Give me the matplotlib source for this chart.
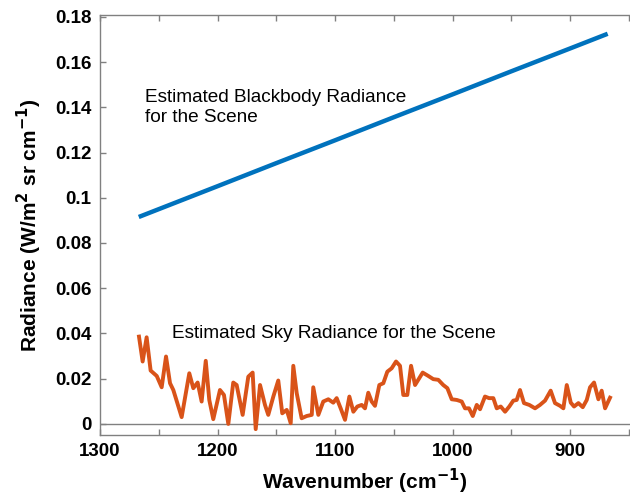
import matplotlib
matplotlib.use('Agg')
import matplotlib.pyplot as plt
import matplotlib.ticker as mticker

plt.rcParams['font.family'] = ['Liberation Sans', 'DejaVu Sans']

# blackbody radiance estimate for the scene
bb_wavenumber = [1267, 1200, 1150, 1100, 1050, 1000, 950, 900, 868]
bb_radiance = [0.0915, 0.1051, 0.1153, 0.1254, 0.1356, 0.1457, 0.1559, 0.1660, 0.1725]

# sky radiance estimate for the scene
sky_wavenumber = [
    1266.8, 1263.7, 1260.3, 1256.9, 1251.7, 1247.5, 1243.8, 1240.4, 1237.6, 1230.5,
    1224.0, 1220.6, 1216.9, 1213.5, 1210.0, 1207.0, 1203.6, 1197.9, 1194.5, 1190.8,
    1186.6, 1183.7, 1178.6, 1173.8, 1170.1, 1167.5, 1163.8, 1159.6, 1156.8, 1152.5,
    1148.3, 1144.9, 1141.1, 1137.7, 1135.5, 1132.6, 1128.4, 1124.1, 1119.8, 1118.5,
    1114.2, 1110.0, 1105.7, 1101.5, 1098.6, 1095.2, 1091.5, 1087.8, 1084.4, 1081.0,
    1077.3, 1074.5, 1071.7, 1068.8, 1066.0, 1062.3, 1058.9, 1055.5, 1051.8, 1048.1,
    1044.7, 1041.9, 1038.5, 1035.3, 1031.9, 1025.4, 1020.6, 1016.4, 1012.1, 1007.9,
    1004.4, 1000.7, 996.4, 992.2, 989.4, 986.0, 982.8, 979.4, 976.6, 972.4,
    968.9, 965.3, 962.4, 959.0, 955.3, 951.7, 948.3, 945.4, 942.6, 939.2,
    934.7, 929.8, 925.6, 921.3, 916.5, 912.8, 908.5, 905.7, 902.8, 899.4,
    896.6, 892.9, 889.2, 885.8, 883.0, 879.6, 875.9, 873.1, 870.2, 866.0]
sky_radiance = [
    0.0386, 0.0276, 0.0383, 0.0236, 0.0212, 0.0162, 0.0298, 0.0180, 0.0150, 0.0030,
    0.0224, 0.0158, 0.0183, 0.0099, 0.0279, 0.0106, 0.0021, 0.0150, 0.0128, 0.0000,
    0.0183, 0.0172, 0.0040, 0.0209, 0.0227, -0.0023, 0.0172, 0.0084, 0.0040, 0.0121,
    0.0192, 0.0047, 0.0062, 0.0003, 0.0257, 0.0136, 0.0025, 0.0035, 0.0040, 0.0162,
    0.0040, 0.0099, 0.0109, 0.0094, 0.0114, 0.0069, 0.0018, 0.0121, 0.0054, 0.0077,
    0.0084, 0.0069, 0.0138, 0.0099, 0.0080, 0.0172, 0.0180, 0.0231, 0.0246, 0.0276,
    0.0257, 0.0128, 0.0128, 0.0257, 0.0172, 0.0227, 0.0212, 0.0198, 0.0195, 0.0172,
    0.0158, 0.0109, 0.0106, 0.0099, 0.0069, 0.0069, 0.0035, 0.0084, 0.0065, 0.0121,
    0.0114, 0.0114, 0.0069, 0.0077, 0.0054, 0.0077, 0.0103, 0.0106, 0.0150, 0.0092,
    0.0084, 0.0069, 0.0084, 0.0103, 0.0147, 0.0092, 0.0080, 0.0069, 0.0172, 0.0094,
    0.0077, 0.0092, 0.0074, 0.0106, 0.0162, 0.0183, 0.0109, 0.0147, 0.0069, 0.0116]

fig = plt.figure(figsize=(6.3, 4.95), dpi=100)
ax = fig.add_axes([0.1587, 0.1212, 0.8413, 0.8485])

ax.axhline(0, color='#808080', lw=1.0, zorder=1)
ax.plot(bb_wavenumber, bb_radiance, color='#0072BD', lw=3.2, solid_capstyle='butt')
ax.plot(sky_wavenumber, sky_radiance, color='#D95319', lw=2.8)

ax.set_xlim(1300, 849)
ax.set_ylim(-0.0049, 0.1808)

# ticks every 50, labels every 100
ax.xaxis.set_major_locator(mticker.MultipleLocator(50))
ax.xaxis.set_major_formatter(mticker.FuncFormatter(
    lambda v, p: '%d' % v if round(v) % 100 == 0 else ''))
ax.yaxis.set_major_locator(mticker.MultipleLocator(0.02))
ax.yaxis.set_major_formatter(mticker.FuncFormatter(lambda v, p: '%g' % round(v, 2)))

ax.tick_params(direction='in', top=True, right=False, length=4, width=1,
               color='#808080', labelsize=13.5, pad=6)
for lab in ax.get_xticklabels() + ax.get_yticklabels():
    lab.set_fontweight('bold')

for side in ['left', 'bottom', 'top']:
    ax.spines[side].set_color('#808080')
    ax.spines[side].set_linewidth(1.0)
ax.spines['right'].set_visible(False)

ax.set_xlabel('Wavenumber (cm$^{\\mathbf{-1}}$)', fontsize=15, fontweight='bold', labelpad=5)
ax.set_ylabel('Radiance (W/m$^{\\mathbf{2}}$ sr cm$^{\\mathbf{-1}}$)', fontsize=15,
              fontweight='bold', labelpad=8)

ax.text(1261.5, 0.1400, 'Estimated Blackbody Radiance\nfor the Scene', fontsize=13.7,
        ha='left', va='center', linespacing=1.2)
ax.text(1238.5, 0.0402, 'Estimated Sky Radiance for the Scene', fontsize=13.7,
        ha='left', va='center')

fig.savefig('out.png', dpi=100)
